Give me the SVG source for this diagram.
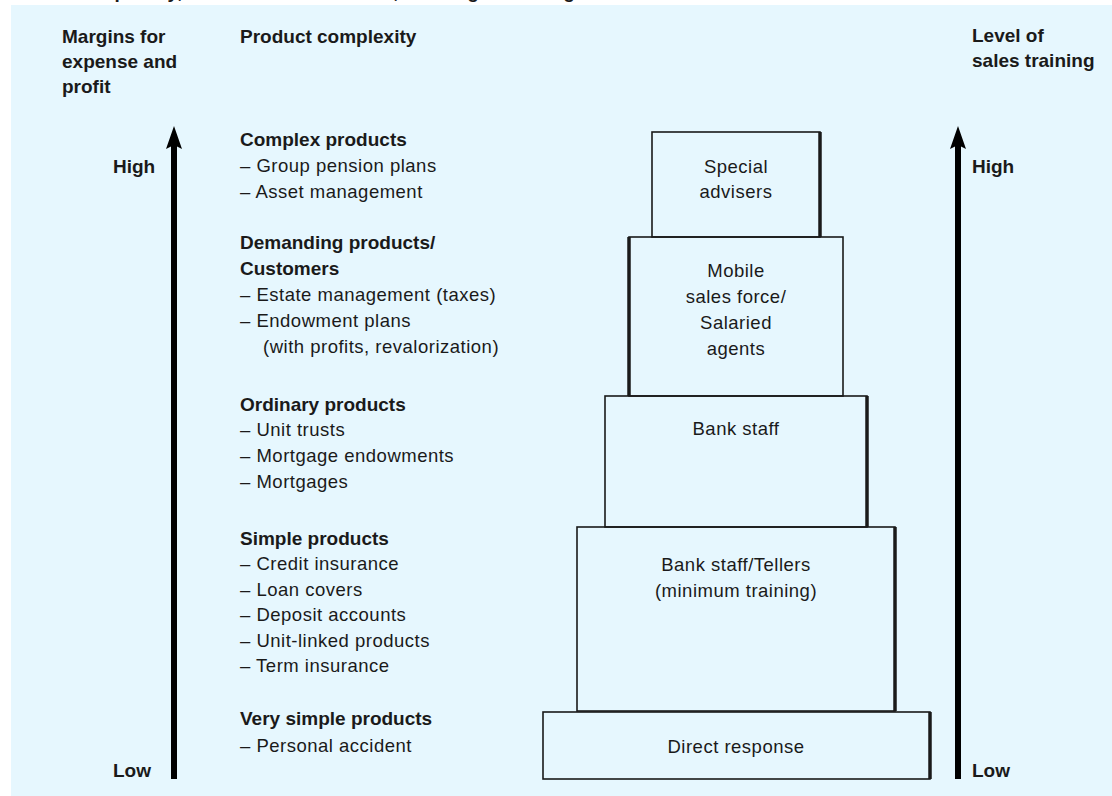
<svg xmlns="http://www.w3.org/2000/svg" width="1112" height="796" viewBox="0 0 1112 796">
<style>
text{font-family:"Liberation Sans",Arial,sans-serif;fill:#1a1a1a;}
.b{font-weight:bold;font-size:19px;}
.r{font-size:18.5px;letter-spacing:0.5px;}
.c{text-anchor:middle;}
.box{fill:none;stroke:#1a1a1a;stroke-width:1.6;}
.sh{stroke:#1a1a1a;stroke-width:3.5;}
.ax{stroke:#000;stroke-width:6;}
.head{fill:#000;}
</style>
<rect x="0" y="0" width="1112" height="796" fill="#ffffff"/>
<rect x="11" y="5" width="1101" height="791" fill="#e6f7fe"/>
<text class="b" x="-8" y="-2" textLength="612">Product complexity, distribution channels, training and margins</text>

<g id="headers">
<text class="b" x="62" y="43">Margins for</text>
<text class="b" x="62" y="68">expense and</text>
<text class="b" x="62" y="93">profit</text>
<text class="b" x="240" y="43">Product complexity</text>
<text class="b" x="972" y="42">Level of</text>
<text class="b" x="972" y="67">sales training</text>
</g>

<g id="connectors">
<line class="ax" x1="174" y1="779" x2="174" y2="145"/>
<polygon class="head" points="174,126 182,149 174,145 166,149"/>
<line class="ax" x1="958" y1="779" x2="958" y2="145"/>
<polygon class="head" points="958,126 966,149 958,145 950,149"/>
</g>

<g id="axis-labels">
<text class="b" x="113" y="173">High</text>
<text class="b" x="113" y="777">Low</text>
<text class="b" x="972" y="173">High</text>
<text class="b" x="972" y="777">Low</text>
</g>

<g id="products">
<text class="b" x="240" y="146">Complex products</text>
<text class="r" x="240" y="172">–  Group pension plans</text>
<text class="r" x="240" y="198">–  Asset management</text>
<text class="b" x="240" y="249">Demanding products/</text>
<text class="b" x="240" y="275">Customers</text>
<text class="r" x="240" y="301">–  Estate management (taxes)</text>
<text class="r" x="240" y="327">–  Endowment plans</text>
<text class="r" x="263" y="353">(with profits, revalorization)</text>
<text class="b" x="240" y="411">Ordinary products</text>
<text class="r" x="240" y="436">–  Unit trusts</text>
<text class="r" x="240" y="462">–  Mortgage endowments</text>
<text class="r" x="240" y="488">–  Mortgages</text>
<text class="b" x="240" y="545">Simple products</text>
<text class="r" x="240" y="570">–  Credit insurance</text>
<text class="r" x="240" y="596">–  Loan covers</text>
<text class="r" x="240" y="621">–  Deposit accounts</text>
<text class="r" x="240" y="647">–  Unit-linked products</text>
<text class="r" x="240" y="672">–  Term insurance</text>
<text class="b" x="240" y="725">Very simple products</text>
<text class="r" x="240" y="752">–  Personal accident</text>
</g>

<g id="special-advisers">
<rect class="box" x="652" y="132" width="168" height="105"/>
<line class="sh" x1="820" y1="132" x2="820" y2="237"/>
<text class="r c" x="736" y="173">Special</text>
<text class="r c" x="736" y="198">advisers</text>
</g>

<g id="mobile-sales-force">
<rect class="box" x="629" y="237" width="214" height="159"/>
<line class="sh" x1="629" y1="237" x2="629" y2="396"/>
<text class="r c" x="736" y="277">Mobile</text>
<text class="r c" x="736" y="303">sales force/</text>
<text class="r c" x="736" y="329">Salaried</text>
<text class="r c" x="736" y="355">agents</text>
</g>

<g id="bank-staff">
<rect class="box" x="605" y="396" width="262" height="131"/>
<line class="sh" x1="867" y1="396" x2="867" y2="527"/>
<text class="r c" x="736" y="435">Bank staff</text>
</g>

<g id="bank-tellers">
<rect class="box" x="577" y="527" width="318" height="184"/>
<line class="sh" x1="895" y1="527" x2="895" y2="711"/>
<text class="r c" x="736" y="571">Bank staff/Tellers</text>
<text class="r c" x="736" y="597">(minimum training)</text>
</g>

<g id="direct-response">
<rect class="box" x="543" y="712" width="387" height="67"/>
<line class="sh" x1="930" y1="712" x2="930" y2="779"/>
<text class="r c" x="736" y="753">Direct response</text>
</g>
</svg>
